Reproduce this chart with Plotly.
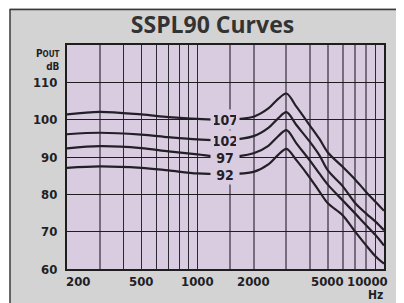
import math
import plotly.graph_objects as go

# ---- data ----
freq_hz = [200, 300, 500, 700, 1000, 1400, 2000, 2400, 2700, 3000, 3400, 4000, 4500, 5000, 6000, 7000, 8000, 9000, 10000]
curve_107 = [101.4, 102.1, 101.4, 100.7, 100.2, 100.0, 100.8, 103.0, 105.5, 107.0, 103.4, 98.5, 94.9, 91.2, 87.4, 84.0, 80.7, 78.0, 75.6]
curve_102 = [96.1, 96.5, 96.0, 95.3, 94.7, 94.5, 95.6, 97.8, 100.3, 102.0, 98.5, 94.1, 90.5, 86.4, 82.2, 77.7, 74.9, 72.7, 70.4]
curve_97 = [92.3, 92.9, 92.4, 91.5, 90.7, 90.0, 91.0, 93.0, 95.5, 97.2, 93.6, 89.1, 85.6, 82.6, 78.4, 74.9, 71.8, 69.1, 66.3]
curve_92 = [87.1, 87.5, 87.1, 86.4, 85.6, 85.4, 86.0, 88.0, 90.5, 92.2, 89.1, 84.5, 80.8, 77.6, 74.4, 70.0, 66.4, 63.4, 61.4]
curve_labels = ["107", "102", "97", "92"]
label_freq = 1400

y_ticks = [60, 70, 80, 90, 100, 110]
x_tick_vals = [200, 500, 1000, 2000, 5000, 10000]
x_tick_text = ["200", "500", "1000", "2000", "5000", "10000"]
grid_dark = [400, 500, 600, 700, 800, 900, 1000, 9000]
grid_grey = [300, 1500, 2000, 3000, 4000, 5000, 6000, 7000, 8000]

title_text = "SSPL90 Curves"
x_unit = "Hz"

# ---- styles ----
NARROW = "Liberation Sans Narrow, DejaVu Sans Condensed, Arial Narrow, sans-serif"
INK = "#231f26"
PLOT_BG = "#d9cce1"
PAPER_BG = "#d3d3d3"

fig = go.Figure()
curves = [curve_107, curve_102, curve_97, curve_92]
for c in curves:
    fig.add_trace(go.Scatter(x=freq_hz, y=c, mode="lines",
                             line=dict(color=INK, width=2.2, shape="spline", smoothing=0.9),
                             hoverinfo="skip", showlegend=False))

# curve labels
label_idx = freq_hz.index(label_freq)
for txt, c in zip(curve_labels, curves):
    fig.add_annotation(x=math.log10(label_freq), y=c[label_idx], xref="x", yref="y",
                       text="<b>%s</b>" % txt, showarrow=False,
                       font=dict(family=NARROW, size=14, color=INK),
                       bgcolor=PLOT_BG, width=22, height=13, borderpad=3)

# x tick labels
for v, t in zip(x_tick_vals, x_tick_text):
    anchor = "center"
    shift = 0
    if v == x_tick_vals[0]:
        anchor, shift = "left", -3
    elif v == x_tick_vals[-1]:
        anchor, shift = "right", 6
    fig.add_annotation(x=math.log10(v), y=0, xref="x", yref="paper", yanchor="top",
                       xanchor=anchor, xshift=shift, yshift=-3,
                       text="<b>%s</b>" % t, showarrow=False,
                       font=dict(family=NARROW, size=13, color=INK))
fig.add_annotation(x=math.log10(x_tick_vals[-1]), y=0, xref="x", yref="paper", yanchor="top",
                   xanchor="center", xshift=-9, yshift=-17,
                   text="<b>%s</b>" % x_unit, showarrow=False,
                   font=dict(family=NARROW, size=12, color=INK))

# y-axis unit label
fig.add_annotation(x=0, y=1, xref="paper", yref="paper", xanchor="right", yanchor="top",
                   xshift=-5, yshift=-1, align="right", showarrow=False,
                   text="<b>P<span style='font-size:8px'>OUT</span><br>dB</b>",
                   font=dict(family=NARROW, size=10, color=INK))

# outer frame: white strip at left, dark outline
fig.add_shape(type="rect", xref="paper", yref="paper", x0=-0.3, x1=-0.1798, y0=-0.3, y1=1.4,
              fillcolor="white", line=dict(width=0), layer="below")
fig.add_shape(type="rect", xref="paper", yref="paper", x0=-0.1798, x1=1.1, y0=-0.2, y1=1.1585,
              fillcolor="rgba(0,0,0,0)", line=dict(width=1.5, color="#3a3a3a"), layer="below")

fig.update_layout(
    width=396, height=295,
    margin=dict(l=59, r=20, t=37, b=34),
    paper_bgcolor=PAPER_BG, plot_bgcolor=PLOT_BG,
    title=dict(text="<b>%s</b>" % title_text, x=0.5164, xanchor="center", y=0.9424, yanchor="middle",
               xref="container", yref="container",
               font=dict(family="Open Sans, Lato, sans-serif", size=23, color="#333333")),
    showlegend=False,
)
fig.update_xaxes(type="log", range=[math.log10(200), math.log10(10000)],
                 tickvals=grid_dark, showticklabels=False, ticks="",
                 showgrid=True, gridcolor="#2e2833", gridwidth=1,
                 minor=dict(tickvals=grid_grey, showgrid=True, gridcolor="#766c7e", gridwidth=2, ticks=""),
                 showline=True, linecolor="#1e1e1e", linewidth=2, mirror=True, zeroline=False)
fig.update_yaxes(range=[60, 120], tickvals=y_ticks, ticktext=["<b>%d</b>" % v for v in y_ticks],
                 ticks="", ticklabelstandoff=5,
                 tickfont=dict(family=NARROW, size=13, color=INK),
                 showgrid=True, gridcolor="#1e1e1e", gridwidth=1.2,
                 showline=True, linecolor="#1e1e1e", linewidth=2, mirror=True, zeroline=False)

fig.write_html("out.html")
